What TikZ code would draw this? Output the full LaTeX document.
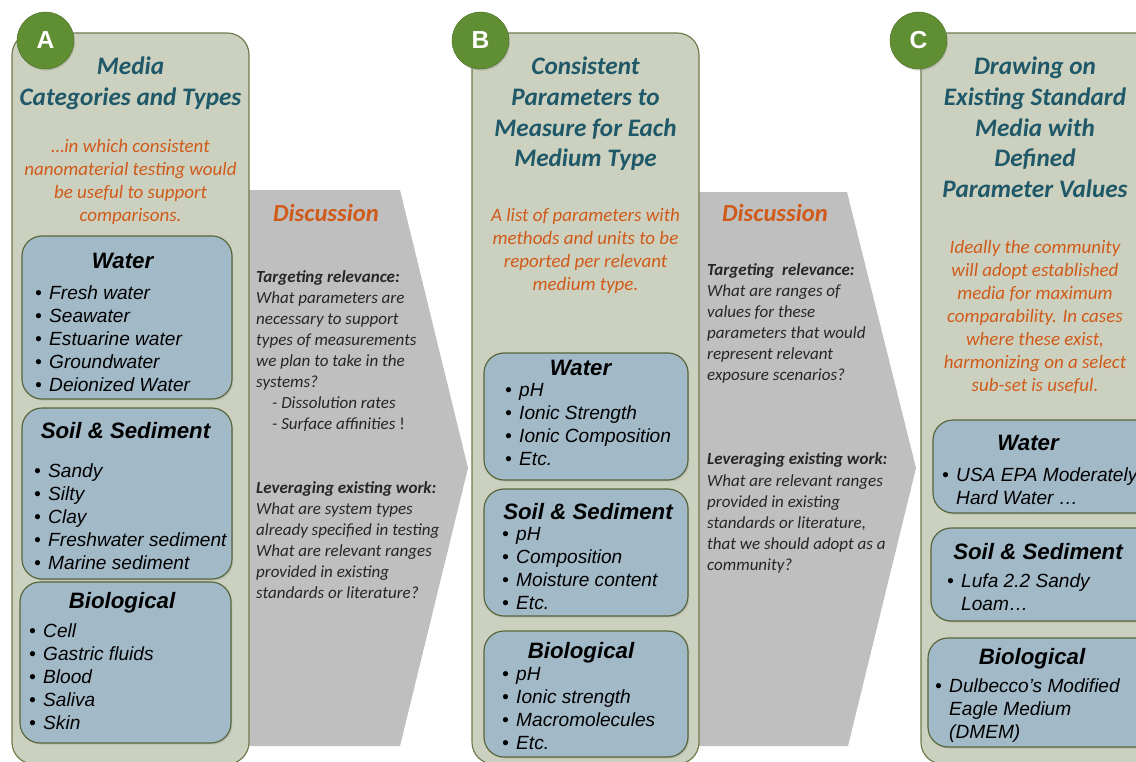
\documentclass[tikz,border=0pt]{standalone}
\usepackage{fontspec}
\setmainfont{Carlito}
\newfontfamily\arial{Liberation Sans}
\usetikzlibrary{shadows}
\definecolor{panelfill}{RGB}{204,209,191}\definecolor{panelline}{RGB}{110,122,75}
\definecolor{boxfill}{RGB}{162,185,199}\definecolor{boxline}{RGB}{86,102,58}
\definecolor{ttlteal}{RGB}{31,88,104}\definecolor{noteorange}{RGB}{208,90,26}
\definecolor{discgray}{RGB}{191,191,191}\definecolor{badgegreen}{RGB}{96,142,50}
\newcommand{\bul}{\makebox[4.2mm][l]{\textbullet}}
\newcommand{\ind}{\hspace*{4.2mm}}
\tikzset{every node/.style={inner sep=0pt},
  panel/.style={fill=panelfill,draw=panelline,line width=1pt,rounded corners=6.5mm},
  medbox/.style={fill=boxfill,draw=boxline,line width=1pt,rounded corners=6mm,
    drop shadow={opacity=.25,shadow xshift=.4mm,shadow yshift=-.5mm}},
  disc/.style={fill=discgray},
  badge/.style={circle,fill=badgegreen,draw=badgegreen!80!black,minimum size=17.1mm,text=white,
    font=\arial\bfseries\fontsize{21}{21}\selectfont,drop shadow={opacity=.3,shadow xshift=.3mm,shadow yshift=-.5mm}},
  ttl/.style={anchor=north,align=center,text=ttlteal,font=\bfseries\itshape\fontsize{21.5}{26.2}\selectfont},
  note/.style={anchor=north,align=center,text=noteorange,font=\itshape\fontsize{16.2}{19.7}\selectfont},
  bttl/.style={anchor=north,font=\arial\bfseries\itshape\fontsize{19}{19}\selectfont},
  items/.style={anchor=north west,align=left,font=\arial\itshape\fontsize{16.3}{19.7}\selectfont},
  dhead/.style={anchor=north,text=noteorange,font=\bfseries\itshape\fontsize{21}{21}\selectfont},
  dtext/.style={anchor=north west,align=left,text=black!85,font=\itshape\fontsize{14.5}{18}\selectfont}}

\begin{document}
\begin{tikzpicture}[x=.3mm,y=-.3mm]
\useasboundingbox (0,0) rectangle (1136,761);\clip (0,0) rectangle (1136,761);
% discussion chevrons behind the panels
\fill[disc] (240,190)--(400,190)--(468,468)--(400,746)--(240,746)--cycle;
\fill[disc] (690,192)--(847,192)--(916,468)--(848,746)--(690,746)--cycle;
% panels
\draw[panel] (12,33) rectangle (249,764);\draw[panel] (472,33) rectangle (699,764);\draw[panel] (921,33) rectangle (1170,764);
\draw[medbox] (22,236) rectangle (232,399);\draw[medbox] (22,408) rectangle (232,579);\draw[medbox] (20,582) rectangle (231,743);
\draw[medbox] (484,353) rectangle (688,480);\draw[medbox] (484,489) rectangle (688,616);\draw[medbox] (484,631) rectangle (688,757);
\draw[medbox] (933,420) rectangle (1160,513);\draw[medbox] (931,528) rectangle (1160,621);\draw[medbox] (928,638) rectangle (1160,747);
\node[badge] (bA) at (45.5,40.5){A};\node[badge] (bB) at (480.5,40.5){B};\node[badge] (bC) at (918.5,40.5){C};

% A: media categories
\node[ttl] (ttlA) at (130.5,57){Media\\Categories and Types};
\node[note] (noteA) at (130.5,139){…in which consistent\\nanomaterial testing would\\be useful to support\\comparisons.};
\node[bttl] (waterA) at (122.5,253){Water};
\node[items] (waterAl) at (35,285){\bul Fresh water\\\bul Seawater\\\bul Estuarine water\\\bul Groundwater\\\bul Deionized Water};
\node[bttl] (soilA) at (125.5,422){Soil \& Sediment};
\node[items] (soilAl) at (34,463){\bul Sandy\\\bul Silty\\\bul Clay\\\bul Freshwater sediment\\\bul Marine sediment};
\node[bttl] (bioA) at (122,592){Biological};
\node[items] (bioAl) at (29,623){\bul Cell\\\bul Gastric fluids\\\bul Blood\\\bul Saliva\\\bul Skin};
\node[dhead] (dA) at (326,204){Discussion};
\node[dtext] (dAt) at (256,270){\textbf{Targeting relevance:}\\What parameters are\\necessary to support\\types of measurements\\we plan to take in the\\systems?\\
  \hspace*{4.8mm}- Dissolution rates\\\hspace*{4.8mm}- Surface affinities {\upshape !}\\[36pt]
  \textbf{Leveraging existing work:}\\What are system types\\already specified in testing\\What are relevant ranges\\provided in existing\\standards or literature?};

% B: parameters
\node[ttl] (ttlB) at (585.5,57){Consistent\\Parameters to\\Measure for Each\\Medium Type};
\node[note] (noteB) at (585.5,208){A list of parameters with\\methods and units to be\\reported per relevant\\medium type.};
\node[bttl] (waterB) at (580.5,360){Water};
\node[items] (waterBl) at (505,383){\bul pH\\\bul Ionic Strength\\\bul Ionic Composition\\\bul Etc.};
\node[bttl] (soilB) at (588,503){Soil \& Sediment};
\node[items] (soilBl) at (502,527){\bul pH\\\bul Composition\\\bul Moisture content\\\bul Etc.};
\node[bttl] (bioB) at (581,642){Biological};
\node[items] (bioBl) at (502,667){\bul pH\\\bul Ionic strength\\\bul Macromolecules\\\bul Etc.};
\node[dhead] (dB) at (775,204){Discussion};
\node[dtext] (dBt) at (707,263){\textbf{Targeting\ \ relevance:}\\What are ranges of\\values for these\\parameters that would\\represent relevant\\exposure scenarios?\\[54pt]
  \textbf{Leveraging existing work:}\\What are relevant ranges\\provided in existing\\standards or literature,\\that we should adopt as a\\community?};

% C: standard media
\node[ttl] (ttlC) at (1035,57){Drawing on\\Existing Standard\\Media with\\Defined\\Parameter Values};
\node[note] (noteC) at (1035,240){Ideally the community\\will adopt established\\media for maximum\\comparability. In cases\\where these exist,\\harmonizing on a select\\sub-set is useful.};
\node[bttl] (waterC) at (1028,435){Water};
\node[items] (waterCl) at (942,467){\bul USA EPA Moderately\\\ind Hard Water …};
\node[bttl] (soilC) at (1038,543){Soil \& Sediment};
\node[items] (soilCl) at (947,573){\bul Lufa 2.2 Sandy\\\ind Loam…};
\node[bttl] (bioC) at (1032,648){Biological};
\node[items] (bioCl) at (935,678){\bul Dulbecco’s Modified\\\ind Eagle Medium\\\ind (DMEM)};
\end{tikzpicture}
\end{document}
